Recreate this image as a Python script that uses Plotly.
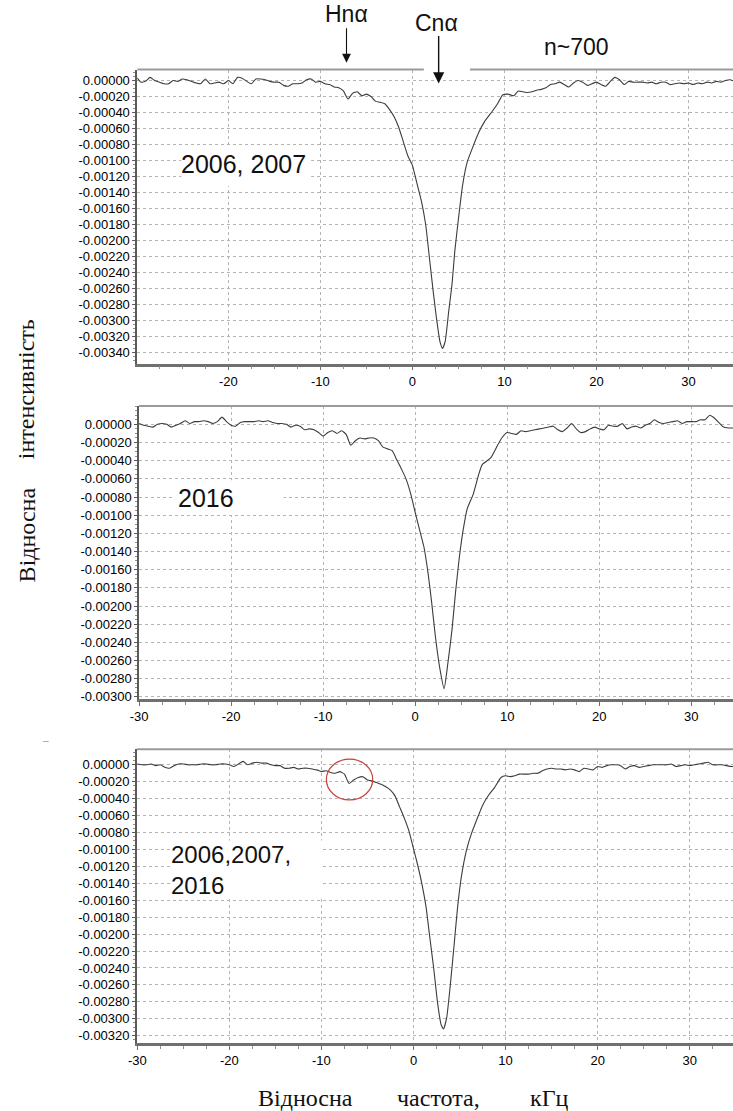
import plotly.graph_objects as go

# ---------------- data ----------------
# Panel 1: 2006, 2007
freq_1 = [-29.9, -29.5, -29.0, -28.5, -28.0, -27.5, -27.0, -26.5, -26.0, -25.5, -25.0, -24.5, -24.0,
          -23.5, -23.0, -22.5, -22.0, -21.5, -21.0, -20.5, -20.0, -19.5, -19.0, -18.5, -18.0, -17.5,
          -17.0, -16.5, -16.0, -15.5, -15.0, -14.5, -14.0, -13.5, -13.0, -12.5, -12.0, -11.5, -11.0,
          -10.5, -10.0, -9.5, -9.0, -8.5, -8.0, -7.5, -7.0, -6.5, -6.0, -5.5, -5.0, -4.5, -4.0, -3.5,
          -3.0, -2.5, -2.0, -1.5, -1.0, -0.5, 0.0, 0.5, 1.0, 1.45, 1.85, 2.25, 2.6, 3.0, 3.27, 3.55,
          3.95, 4.3, 4.6, 5.05, 5.45, 5.95, 6.6, 7.2, 7.85, 8.7, 9.3, 9.8, 10.4, 11.0, 11.5, 12.0,
          12.5, 13.0, 13.5, 14.0, 14.5, 15.0, 15.5, 16.0, 16.5, 17.0, 17.5, 18.0, 18.5, 19.0, 19.5,
          20.0, 20.5, 21.0, 21.5, 22.0, 22.5, 23.0, 23.5, 24.0, 24.5, 25.0, 25.5, 26.0, 26.5, 27.0,
          27.5, 28.0, 28.5, 29.0, 29.5, 30.0, 30.5, 31.0, 31.5, 32.0, 32.5, 33.0, 33.5, 34.0, 34.5, 35.0]
intens_1 = [0.00003, -0.00002, -0.00001, 0.00004, 0.00000, -0.00002, -0.00004, -0.00004, 0.00000,
            -0.00001, 0.00002, 0.00001, -0.00001, -0.00003, -0.00004, 0.00002, -0.00004, -0.00003,
            -0.00002, -0.00004, 0.00000, -0.00004, 0.00004, 0.00003, -0.00001, -0.00004, 0.00002,
            0.00002, 0.00001, -0.00001, -0.00002, -0.00002, -0.00006, -0.00007, -0.00004, -0.00004,
            -0.00003, 0.00001, 0.00002, -0.00002, -0.00001, -0.00004, -0.00005, -0.00008, -0.00009,
            -0.00013, -0.00023, -0.00016, -0.00014, -0.00019, -0.00017, -0.00020, -0.00026, -0.00027,
            -0.00029, -0.00036, -0.00045, -0.00058, -0.00076, -0.00094, -0.00106, -0.00129, -0.00152,
            -0.00181, -0.00222, -0.00263, -0.00296, -0.00327, -0.00335, -0.00327, -0.00288, -0.00255,
            -0.00214, -0.00168, -0.00131, -0.00102, -0.00082, -0.00065, -0.00051, -0.00038, -0.00028,
            -0.00018, -0.00017, -0.00019, -0.00013, -0.00014, -0.00015, -0.00014, -0.00012, -0.00011,
            -0.00009, -0.00005, -0.00004, -0.00002, -0.00005, -0.00008, -0.00003, 0.00000, -0.00002,
            -0.00006, -0.00004, -0.00002, -0.00005, -0.00007, -0.00001, 0.00004, 0.00001, -0.00005,
            -0.00001, -0.00002, -0.00002, -0.00002, -0.00003, -0.00002, -0.00004, -0.00002, -0.00002,
            -0.00005, -0.00004, -0.00003, -0.00004, -0.00003, -0.00005, -0.00003, -0.00004, -0.00002,
            -0.00003, -0.00001, -0.00002, 0.00000, 0.00001, -0.00001]

# Panel 2: 2016
freq_2 = [-30.0, -29.5, -29.0, -28.5, -28.0, -27.5, -27.0, -26.5, -26.0, -25.5, -25.0, -24.5, -24.0,
          -23.5, -23.0, -22.5, -22.0, -21.5, -21.0, -20.5, -20.0, -19.5, -19.0, -18.5, -18.0, -17.5,
          -17.0, -16.5, -16.0, -15.5, -15.0, -14.5, -14.0, -13.5, -13.0, -12.5, -12.0, -11.5, -11.0,
          -10.5, -10.0, -9.5, -9.0, -8.5, -8.0, -7.5, -7.0, -6.5, -6.0, -5.5, -5.0, -4.5, -4.0, -3.5,
          -3.0, -2.5, -2.0, -1.5, -1.0, -0.5, 0.0, 0.5, 0.95, 1.4, 1.8, 2.2, 2.7, 3.14, 3.55, 4.0,
          4.4, 4.8, 5.2, 5.65, 6.3, 6.9, 7.3, 8.2, 8.8, 9.4, 10.0, 10.5, 11.0, 11.5, 12.0, 12.5,
          13.0, 13.5, 14.0, 14.5, 15.0, 15.5, 16.0, 16.5, 17.0, 17.5, 18.0, 18.5, 19.0, 19.5, 20.0,
          20.5, 21.0, 21.5, 22.0, 22.5, 23.0, 23.5, 24.0, 24.5, 25.0, 25.5, 26.0, 26.5, 27.0, 27.5,
          28.0, 28.5, 29.0, 29.5, 30.0, 30.5, 31.0, 31.5, 32.0, 32.5, 33.0, 33.5, 34.0, 34.5, 35.0]
intens_2 = [0.00001, -0.00001, -0.00002, -0.00003, 0.00000, 0.00001, 0.00000, -0.00003, -0.00001,
            0.00001, 0.00004, 0.00001, 0.00003, 0.00003, 0.00004, 0.00003, 0.00001, 0.00003, 0.00008,
            0.00003, -0.00001, -0.00002, 0.00002, 0.00003, 0.00003, 0.00003, 0.00004, 0.00003, 0.00004,
            0.00002, 0.00001, 0.00001, 0.00000, -0.00003, -0.00001, -0.00002, -0.00006, -0.00005,
            -0.00006, -0.00009, -0.00013, -0.00009, -0.00007, -0.00010, -0.00007, -0.00011, -0.00023,
            -0.00018, -0.00015, -0.00016, -0.00015, -0.00015, -0.00018, -0.00025, -0.00027, -0.00029,
            -0.00039, -0.00049, -0.00060, -0.00076, -0.00097, -0.00117, -0.00135, -0.00164, -0.00197,
            -0.00234, -0.00270, -0.00291, -0.00263, -0.00226, -0.00183, -0.00146, -0.00117, -0.00093,
            -0.00077, -0.00055, -0.00044, -0.00037, -0.00026, -0.00015, -0.00009, -0.00010, -0.00011,
            -0.00007, -0.00008, -0.00007, -0.00006, -0.00005, -0.00004, -0.00003, -0.00002, -0.00006,
            -0.00008, -0.00004, 0.00001, -0.00005, -0.00009, -0.00008, -0.00005, -0.00003, -0.00005,
            -0.00006, -0.00001, -0.00002, -0.00002, 0.00001, -0.00005, -0.00003, -0.00002, -0.00004,
            -0.00001, 0.00001, 0.00005, 0.00002, 0.00001, 0.00002, 0.00003, 0.00004, 0.00001, 0.00003,
            0.00003, 0.00003, 0.00005, 0.00005, 0.00010, 0.00007, 0.00002, -0.00003, -0.00004, -0.00004,
            -0.00004]

# Panel 3: 2006, 2007, 2016
freq_3 = [-30.0, -29.5, -29.0, -28.5, -28.0, -27.5, -27.0, -26.5, -26.0, -25.5, -25.0, -24.5, -24.0,
          -23.5, -23.0, -22.5, -22.0, -21.5, -21.0, -20.5, -20.0, -19.5, -19.0, -18.5, -18.0, -17.5,
          -17.0, -16.5, -16.0, -15.5, -15.0, -14.5, -14.0, -13.5, -13.0, -12.5, -12.0, -11.5, -11.0,
          -10.5, -10.0, -9.5, -9.0, -8.5, -8.0, -7.5, -7.0, -6.5, -6.0, -5.5, -5.0, -4.5, -4.0, -3.5,
          -3.0, -2.5, -2.0, -1.5, -1.0, -0.5, 0.0, 0.4, 0.9, 1.35, 1.75, 2.2, 2.6, 3.0, 3.26, 3.6,
          4.0, 4.4, 4.8, 5.2, 5.75, 6.3, 6.9, 7.5, 8.15, 8.8, 9.5, 10.0, 10.5, 11.0, 11.5, 12.0,
          12.5, 13.0, 13.5, 14.0, 14.5, 15.0, 15.5, 16.0, 16.5, 17.0, 17.5, 18.0, 18.5, 19.0, 19.5,
          20.0, 20.5, 21.0, 21.5, 22.0, 22.5, 23.0, 23.5, 24.0, 24.5, 25.0, 25.5, 26.0, 26.5, 27.0,
          27.5, 28.0, 28.5, 29.0, 29.5, 30.0, 30.5, 31.0, 31.5, 32.0, 32.5, 33.0, 33.5, 34.0, 34.5, 35.0]
intens_3 = [0.00001, 0.00000, 0.00000, 0.00001, -0.00001, 0.00000, -0.00003, -0.00004, -0.00001,
            0.00001, 0.00001, 0.00000, 0.00000, 0.00000, 0.00001, 0.00001, 0.00000, 0.00000, 0.00001,
            0.00001, 0.00000, -0.00002, 0.00001, 0.00004, 0.00000, 0.00002, 0.00003, 0.00002, 0.00002,
            0.00000, -0.00001, -0.00001, -0.00004, -0.00004, -0.00003, -0.00005, -0.00004, -0.00004,
            -0.00005, -0.00006, -0.00008, -0.00007, -0.00009, -0.00010, -0.00008, -0.00011, -0.00022,
            -0.00018, -0.00015, -0.00014, -0.00018, -0.00019, -0.00021, -0.00023, -0.00026, -0.00030,
            -0.00037, -0.00050, -0.00063, -0.00078, -0.00099, -0.00116, -0.00140, -0.00167, -0.00202,
            -0.00241, -0.00280, -0.00307, -0.00312, -0.00299, -0.00260, -0.00214, -0.00167, -0.00132,
            -0.00101, -0.00081, -0.00064, -0.00048, -0.00036, -0.00027, -0.00015, -0.00013, -0.00014,
            -0.00013, -0.00011, -0.00011, -0.00011, -0.00010, -0.00010, -0.00007, -0.00005, -0.00004,
            -0.00005, -0.00005, -0.00006, -0.00005, -0.00006, -0.00008, -0.00004, -0.00005, -0.00006,
            -0.00002, -0.00003, -0.00001, 0.00000, 0.00000, -0.00001, -0.00005, -0.00002, -0.00001,
            -0.00003, -0.00002, -0.00001, 0.00000, 0.00000, 0.00000, 0.00000, 0.00001, -0.00002,
            -0.00001, 0.00000, -0.00001, 0.00000, 0.00001, 0.00002, 0.00003, 0.00000, 0.00000, 0.00000,
            -0.00001, -0.00002, -0.00002]

# tick values / labels
x_ticks_p1 = [-20, -10, 0, 10, 20, 30]
x_labels_p1 = ["-20", "-10", "0", "10", "20", "30"]
x_ticks_p23 = [-30, -20, -10, 0, 10, 20, 30]
x_labels_p23 = ["-30", "-20", "-10", "0", "10", "20", "30"]

y_ticks_p1 = [0.0, -0.0002, -0.0004, -0.0006, -0.0008, -0.0010, -0.0012, -0.0014, -0.0016,
              -0.0018, -0.0020, -0.0022, -0.0024, -0.0026, -0.0028, -0.0030, -0.0032, -0.0034]
y_labels_p1 = ["0.00000", "-0.00020", "-0.00040", "-0.00060", "-0.00080", "-0.00100", "-0.00120",
               "-0.00140", "-0.00160", "-0.00180", "-0.00200", "-0.00220", "-0.00240", "-0.00260",
               "-0.00280", "-0.00300", "-0.00320", "-0.00340"]
y_ticks_p2 = y_ticks_p1[:16]
y_labels_p2 = y_labels_p1[:16]
y_ticks_p3 = y_ticks_p1[:17]
y_labels_p3 = y_labels_p1[:17]

panel_labels = ["2006, 2007", "2016", "2006,2007,<br>2016"]
line_labels = ["Hnα", "Cnα", "n~700"]

# ---------------- figure ----------------
W, H = 733, 1111
SANS = "Liberation Sans, Arial, sans-serif"
SERIF = "Liberation Serif, Times New Roman, serif"
LINE = "#3c3c3c"

fig = go.Figure()
for i, (fx, iy) in enumerate([(freq_1, intens_1), (freq_2, intens_2), (freq_3, intens_3)]):
    s = "" if i == 0 else str(i + 1)
    fig.add_trace(go.Scatter(x=fx, y=iy, mode="lines", xaxis="x" + s, yaxis="y" + s,
                             line=dict(color=LINE, width=1.1, shape="spline", smoothing=0.5),
                             showlegend=False, hoverinfo="skip"))


def xaxis(domain, rng, tv, tt, anchor):
    return dict(domain=domain, range=rng, anchor=anchor, tickmode="array", tickvals=tv, ticktext=tt,
                showgrid=True, gridcolor="#b4b4b4", griddash="dot", gridwidth=1, zeroline=False,
                showline=True, linecolor="#707070", linewidth=2.5, ticks="outside", ticklen=4,
                tickcolor="#707070", tickwidth=1,
                tickfont=dict(family=SANS, size=13, color="#000"),
                minor=dict(dtick=2.5, tick0=0, ticks="outside", ticklen=3, tickcolor="#909090",
                           showgrid=False),
                fixedrange=True)


def yaxis(domain, rng, tv, tt, anchor):
    return dict(domain=domain, range=rng, anchor=anchor, tickmode="array", tickvals=tv, ticktext=tt,
                showgrid=True, gridcolor="#b4b4b4", griddash="dot", gridwidth=1, zeroline=False,
                showline=True, linecolor="#5a5a5a", linewidth=1.5, ticks="outside", ticklen=3,
                tickcolor="#5a5a5a", tickwidth=1,
                tickfont=dict(family=SANS, size=13, color="#000"),
                minor=dict(dtick=0.00005, tick0=0, ticks="outside", ticklen=2, tickcolor="#909090",
                           showgrid=False),
                fixedrange=True)


def py(px):
    return 1 - px / H


fig.update_layout(
    width=W, height=H, autosize=False,
    margin=dict(l=0, r=0, t=0, b=0, pad=0),
    paper_bgcolor="white", plot_bgcolor="white",
    xaxis=xaxis([129.8 / W, 1.0], [-29.9, 34.83], x_ticks_p1, x_labels_p1, "y"),
    yaxis=yaxis([py(365.7), py(70.0)], [-0.003542, 0.000137], y_ticks_p1, y_labels_p1, "x"),
    xaxis2=xaxis([131.7 / W, 1.0], [-30.0, 34.53], x_ticks_p23, x_labels_p23, "y2"),
    yaxis2=yaxis([py(702.7), py(408.3)], [-0.003022, 0.000201], y_ticks_p2, y_labels_p2, "x2"),
    xaxis3=xaxis([129.5 / W, 1.0], [-30.04, 34.7], x_ticks_p23, x_labels_p23, "y3"),
    yaxis3=yaxis([py(1048.7), py(753.3)], [-0.003287, 0.000184], y_ticks_p3, y_labels_p3, "x3"),
)

shapes = []
# top frame lines (gap in the first panel for the Cnα arrow)
TOP = dict(color="#9a9a9a", width=2)
shapes.append(dict(type="line", xref="x", yref="y domain", x0=-29.9, x1=1.24, y0=1, y1=1, line=TOP))
shapes.append(dict(type="line", xref="x", yref="y domain", x0=6.26, x1=34.83, y0=1, y1=1, line=TOP))
shapes.append(dict(type="line", xref="x2 domain", yref="y2 domain", x0=0, x1=1, y0=1, y1=1, line=TOP))
shapes.append(dict(type="line", xref="x3 domain", yref="y3 domain", x0=0, x1=1, y0=1, y1=1, line=TOP))
# white label boxes covering the grid
WB = dict(type="rect", layer="between", fillcolor="white", line=dict(width=0))
shapes.append(dict(WB, xref="x", yref="y", x0=-25.1, x1=-11.0, y0=-0.00132, y1=-0.000825))
shapes.append(dict(WB, xref="x2", yref="y2", x0=-26.1, x1=-14.3, y0=-0.000999, y1=-0.000616))
shapes.append(dict(WB, xref="x3", yref="y3", x0=-26.2, x1=-9.9, y0=-0.00156, y1=-0.000893))
# red circle around the Hnα feature
shapes.append(dict(type="circle", xref="x3", yref="y3", x0=-9.46, x1=-4.43, y0=-0.000415, y1=0.000068,
                   line=dict(color="#c8403a", width=1.2)))
fig.update_layout(shapes=shapes)

C = dict(xanchor="center", yanchor="middle", showarrow=False)
LBL = dict(family=SANS, size=25, color="#111")
ann = []
ann.append(dict(C, x=-18.4, y=-0.00104, xref="x", yref="y", text=panel_labels[0], font=LBL))
ann.append(dict(C, x=-22.7, y=-0.00081, xref="x2", yref="y2", text=panel_labels[1], font=LBL))
ann.append(dict(C, x=-26.5, y=-0.00124, xref="x3", yref="y3", text=panel_labels[2],
                xanchor="left", align="left", font=dict(family=SANS, size=24, color="#111")))

# header labels and arrows
HDR = dict(family=SANS, size=23, color="#111")
ann.append(dict(C, x=341.7 / W, y=py(14.5), xref="paper", yref="paper", text=line_labels[0], font=HDR))
ann.append(dict(C, x=433.3 / W, y=py(23.5), xref="paper", yref="paper", text=line_labels[1], font=HDR))
ann.append(dict(C, x=574.5 / W, y=py(47.0), xref="paper", yref="paper", text=line_labels[2], font=HDR))
ann.append(dict(x=341.7 / W, y=py(63), xref="paper", yref="paper", text="", showarrow=True,
                ax=0, ay=-36, arrowhead=2, arrowsize=1.6, arrowwidth=1.1, arrowcolor="#111"))
ann.append(dict(x=435 / W, y=py(84), xref="paper", yref="paper", text="", showarrow=True,
                ax=0, ay=-49, arrowhead=2, arrowsize=1.6, arrowwidth=1.4, arrowcolor="#111"))

# axis titles (serif, word by word)
TTL = dict(family=SERIF, size=24, color="#111")
ann.append(dict(C, x=18 / W, y=py(537.5), xref="paper", yref="paper", text="Відносна", textangle=-90,
                font=TTL))
ann.append(dict(C, x=18 / W, y=py(391.5), xref="paper", yref="paper", text="інтенсивність",
                textangle=-90, font=TTL))
ann.append(dict(C, x=300 / W, y=py(1104), xref="paper", yref="paper", text="Відносна", font=TTL))
ann.append(dict(C, x=435 / W, y=py(1104), xref="paper", yref="paper", text="частота,", font=TTL))
ann.append(dict(C, x=547 / W, y=py(1104), xref="paper", yref="paper", text="кГц", font=TTL))
ann.append(dict(C, x=37 / W, y=py(745), xref="paper", yref="paper", text="–",
                font=dict(family=SANS, size=10, color="#999")))
fig.update_layout(annotations=ann)

fig.write_html("out.html", config={"displayModeBar": False},
               post_script="document.body.style.margin='0';document.body.style.overflow='hidden';")
